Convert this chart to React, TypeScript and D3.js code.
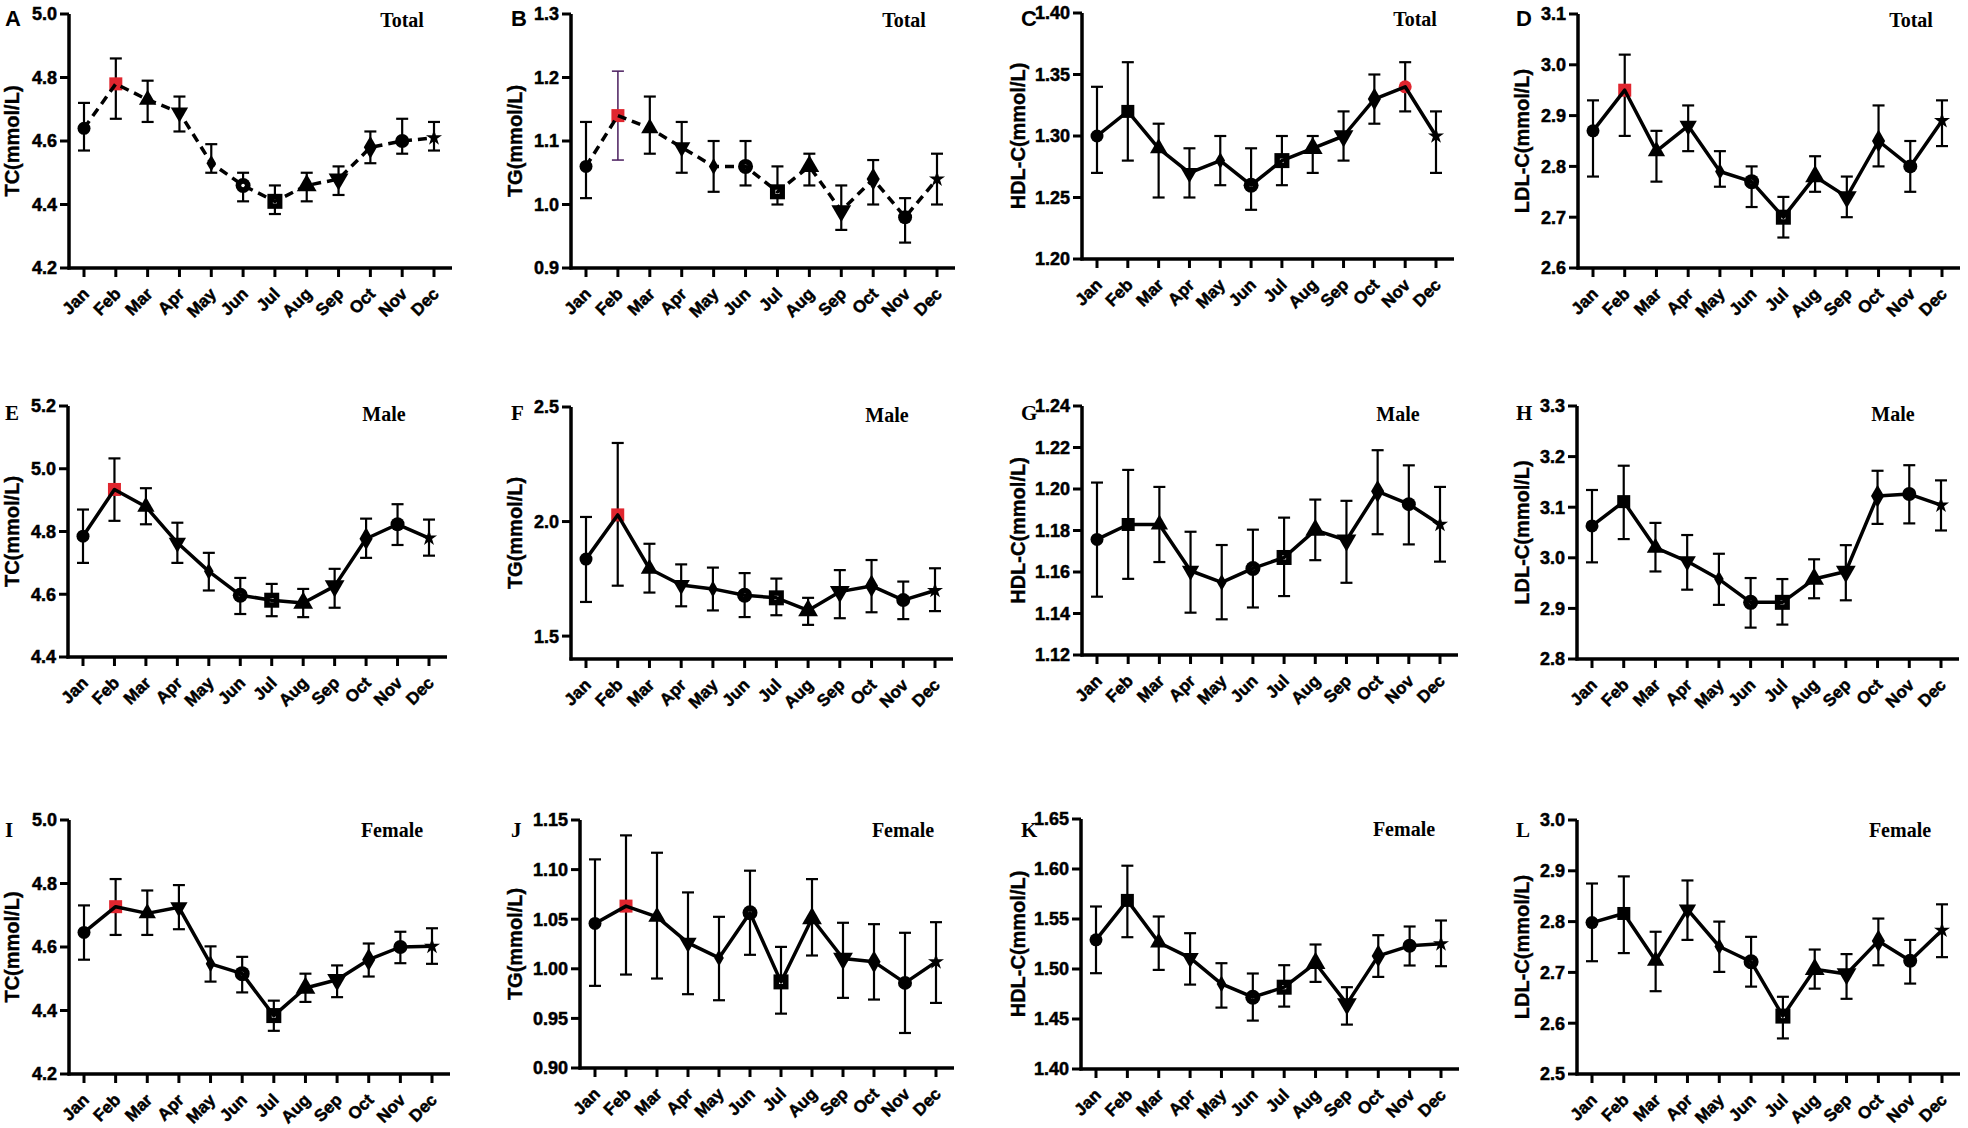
import React from 'react';
import * as d3 from 'd3';

const months = ['Jan', 'Feb', 'Mar', 'Apr', 'May', 'Jun', 'Jul', 'Aug', 'Sep', 'Oct', 'Nov', 'Dec'];

// A - TC total
const tcTotal = [4.64, 4.78, 4.73, 4.69, 4.53, 4.46, 4.41, 4.46, 4.48, 4.58, 4.60, 4.61];
const tcTotalHi = [4.72, 4.86, 4.79, 4.74, 4.59, 4.50, 4.46, 4.50, 4.52, 4.63, 4.67, 4.66];
const tcTotalLo = [4.57, 4.67, 4.66, 4.63, 4.50, 4.41, 4.37, 4.41, 4.43, 4.53, 4.56, 4.57];
// B - TG total
const tgTotal = [1.06, 1.14, 1.12, 1.09, 1.06, 1.06, 1.02, 1.06, 0.99, 1.04, 0.98, 1.04];
const tgTotalHi = [1.13, 1.21, 1.17, 1.13, 1.10, 1.10, 1.06, 1.08, 1.03, 1.07, 1.01, 1.08];
const tgTotalLo = [1.01, 1.07, 1.08, 1.05, 1.02, 1.03, 1.00, 1.03, 0.96, 1.00, 0.94, 1.00];
// C - HDL total
const hdlTotal = [1.30, 1.32, 1.29, 1.27, 1.28, 1.26, 1.28, 1.29, 1.30, 1.33, 1.34, 1.30];
const hdlTotalHi = [1.34, 1.36, 1.31, 1.29, 1.30, 1.29, 1.30, 1.30, 1.32, 1.35, 1.36, 1.32];
const hdlTotalLo = [1.27, 1.28, 1.25, 1.25, 1.26, 1.24, 1.26, 1.27, 1.28, 1.31, 1.32, 1.27];
// D - LDL total
const ldlTotal = [2.87, 2.95, 2.83, 2.88, 2.79, 2.77, 2.70, 2.78, 2.74, 2.85, 2.80, 2.89];
const ldlTotalHi = [2.93, 3.02, 2.87, 2.92, 2.83, 2.80, 2.74, 2.82, 2.78, 2.92, 2.85, 2.93];
const ldlTotalLo = [2.78, 2.86, 2.77, 2.83, 2.76, 2.72, 2.66, 2.75, 2.70, 2.80, 2.75, 2.84];
// E - TC male
const tcMale = [4.785, 4.934, 4.879, 4.764, 4.673, 4.597, 4.581, 4.572, 4.626, 4.777, 4.823, 4.779];
const tcMaleHi = [4.87, 5.033, 4.938, 4.828, 4.732, 4.652, 4.633, 4.617, 4.681, 4.841, 4.887, 4.838];
const tcMaleLo = [4.70, 4.834, 4.823, 4.70, 4.612, 4.537, 4.53, 4.527, 4.557, 4.716, 4.757, 4.723];
// F - TG male
const tgMale = [1.836, 2.029, 1.794, 1.723, 1.706, 1.678, 1.667, 1.612, 1.694, 1.719, 1.657, 1.699];
const tgMaleHi = [2.02, 2.343, 1.903, 1.813, 1.799, 1.775, 1.751, 1.667, 1.788, 1.832, 1.738, 1.796];
const tgMaleLo = [1.649, 1.72, 1.69, 1.63, 1.612, 1.583, 1.591, 1.549, 1.578, 1.604, 1.574, 1.609];
// G - HDL male
const hdlMale = [1.1757, 1.1829, 1.1829, 1.1606, 1.155, 1.1617, 1.167, 1.1802, 1.1753, 1.1989, 1.1927, 1.1829];
const hdlMaleHi = [1.2031, 1.2092, 1.201, 1.1794, 1.173, 1.1804, 1.1862, 1.1949, 1.1943, 1.2187, 1.2114, 1.201];
const hdlMaleLo = [1.1481, 1.1567, 1.1648, 1.1404, 1.1372, 1.1429, 1.1484, 1.1657, 1.1548, 1.1782, 1.1733, 1.165];
// H - LDL male
const ldlMale = [3.063, 3.111, 3.02, 2.993, 2.958, 2.912, 2.912, 2.958, 2.973, 3.122, 3.126, 3.104];
const ldlMaleHi = [3.134, 3.182, 3.069, 3.045, 3.008, 2.96, 2.958, 2.997, 3.025, 3.172, 3.183, 3.153];
const ldlMaleLo = [2.991, 3.037, 2.973, 2.937, 2.907, 2.862, 2.868, 2.92, 2.916, 3.067, 3.068, 3.054];
// I - TC female
const tcFemale = [4.646, 4.727, 4.706, 4.725, 4.547, 4.516, 4.384, 4.471, 4.497, 4.56, 4.60, 4.602];
const tcFemaleHi = [4.731, 4.814, 4.778, 4.795, 4.602, 4.569, 4.431, 4.516, 4.542, 4.611, 4.648, 4.659];
const tcFemaleLo = [4.56, 4.638, 4.638, 4.656, 4.491, 4.457, 4.336, 4.427, 4.442, 4.507, 4.549, 4.547];
// J - TG female
const tgFemale = [1.0457, 1.0632, 1.0524, 1.0262, 1.011, 1.0565, 0.9868, 1.0507, 1.0104, 1.007, 0.9858, 1.007];
const tgFemaleHi = [1.1103, 1.1345, 1.117, 1.077, 1.0524, 1.0989, 1.0221, 1.0904, 1.0464, 1.045, 1.0363, 1.047];
const tgFemaleLo = [0.9828, 0.9942, 0.9902, 0.9744, 0.9683, 1.0141, 0.9548, 1.0134, 0.9707, 0.969, 0.9353, 0.9656];
// K - HDL female
const hdlFemale = [1.5292, 1.5686, 1.5265, 1.5111, 1.4851, 1.4718, 1.4818, 1.5058, 1.4651, 1.5131, 1.5232, 1.5252];
const hdlFemaleHi = [1.5625, 1.6033, 1.5525, 1.5358, 1.5058, 1.4955, 1.5038, 1.5245, 1.4818, 1.5338, 1.5425, 1.5485];
const hdlFemaleLo = [1.4958, 1.5318, 1.4991, 1.4844, 1.4614, 1.4484, 1.4624, 1.4871, 1.4444, 1.4921, 1.5035, 1.5028];
// L - LDL female
const ldlFemale = [2.798, 2.816, 2.723, 2.824, 2.751, 2.721, 2.614, 2.706, 2.697, 2.762, 2.723, 2.783];
const ldlFemaleHi = [2.875, 2.889, 2.78, 2.881, 2.80, 2.77, 2.652, 2.745, 2.736, 2.806, 2.764, 2.834];
const ldlFemaleLo = [2.722, 2.738, 2.663, 2.764, 2.701, 2.672, 2.57, 2.668, 2.648, 2.714, 2.678, 2.73];

const panels = [
  { letter: 'A', title: 'Total', ylab: 'TC(mmol/L)', mean: tcTotal, hi: tcTotalHi, lo: tcTotalLo, domain: [4.2, 5.0], ticks: [4.2, 4.4, 4.6, 4.8, 5.0], dec: 1, dashed: true, red: 1 },
  { letter: 'B', title: 'Total', ylab: 'TG(mmol/L)', mean: tgTotal, hi: tgTotalHi, lo: tgTotalLo, domain: [0.9, 1.3], ticks: [0.9, 1.0, 1.1, 1.2, 1.3], dec: 1, dashed: true, red: 1, purpleErr: 1 },
  { letter: 'C', title: 'Total', ylab: 'HDL-C(mmol/L)', mean: hdlTotal, hi: hdlTotalHi, lo: hdlTotalLo, domain: [1.2, 1.4], ticks: [1.2, 1.25, 1.3, 1.35, 1.4], dec: 2, red: 10 },
  { letter: 'D', title: 'Total', ylab: 'LDL-C(mmol/L)', mean: ldlTotal, hi: ldlTotalHi, lo: ldlTotalLo, domain: [2.6, 3.1], ticks: [2.6, 2.7, 2.8, 2.9, 3.0, 3.1], dec: 1, red: 1 },
  { letter: 'E', title: 'Male', ylab: 'TC(mmol/L)', mean: tcMale, hi: tcMaleHi, lo: tcMaleLo, domain: [4.4, 5.2], ticks: [4.4, 4.6, 4.8, 5.0, 5.2], dec: 1, red: 1 },
  { letter: 'F', title: 'Male', ylab: 'TG(mmol/L)', mean: tgMale, hi: tgMaleHi, lo: tgMaleLo, domain: [1.4, 2.5], ticks: [1.5, 2.0, 2.5], dec: 1, red: 1 },
  { letter: 'G', title: 'Male', ylab: 'HDL-C(mmol/L)', mean: hdlMale, hi: hdlMaleHi, lo: hdlMaleLo, domain: [1.12, 1.24], ticks: [1.12, 1.14, 1.16, 1.18, 1.2, 1.22, 1.24], dec: 2, red: -1 },
  { letter: 'H', title: 'Male', ylab: 'LDL-C(mmol/L)', mean: ldlMale, hi: ldlMaleHi, lo: ldlMaleLo, domain: [2.8, 3.3], ticks: [2.8, 2.9, 3.0, 3.1, 3.2, 3.3], dec: 1, red: -1 },
  { letter: 'I', title: 'Female', ylab: 'TC(mmol/L)', mean: tcFemale, hi: tcFemaleHi, lo: tcFemaleLo, domain: [4.2, 5.0], ticks: [4.2, 4.4, 4.6, 4.8, 5.0], dec: 1, red: 1 },
  { letter: 'J', title: 'Female', ylab: 'TG(mmol/L)', mean: tgFemale, hi: tgFemaleHi, lo: tgFemaleLo, domain: [0.9, 1.15], ticks: [0.9, 0.95, 1.0, 1.05, 1.1, 1.15], dec: 2, red: 1 },
  { letter: 'K', title: 'Female', ylab: 'HDL-C(mmol/L)', mean: hdlFemale, hi: hdlFemaleHi, lo: hdlFemaleLo, domain: [1.4, 1.65], ticks: [1.4, 1.45, 1.5, 1.55, 1.6, 1.65], dec: 2, red: -1 },
  { letter: 'L', title: 'Female', ylab: 'LDL-C(mmol/L)', mean: ldlFemale, hi: ldlFemaleHi, lo: ldlFemaleLo, domain: [2.5, 3.0], ticks: [2.5, 2.6, 2.7, 2.8, 2.9, 3.0], dec: 1, red: -1 },
];

// layout: axis x, top, bottom, x-axis length
const layout = [
  [69, 14, 268, 383], [571, 14, 268, 384], [1082, 13, 259, 372], [1578, 14, 268, 382],
  [68, 406, 657, 379], [571, 407, 659, 382], [1082, 406, 655, 376], [1577, 406, 659, 382],
  [69, 820, 1074, 381], [580, 820, 1068, 374], [1081, 819, 1069, 378], [1577, 820, 1074, 383],
];
const letterX = [5, 511, 1021, 1516];
const letterY = [26, 420, 837];
const ylabX = [12, 515, 1018, 1522];
const titleDx = [333, 316, 323];
const titleDy = [13, 15, 17];

const RED = '#e0262f';
const sans = 'Arial, "Liberation Sans", Helvetica, sans-serif';
const serif = '"Times New Roman", "Liberation Serif", serif';

const tri = d3.symbol().type(d3.symbolTriangle);

function Marker({ i, x, y, red }: any) {
  const fill = '#000';
  const t = `translate(${x},${y})`;
  if (red) {
    if (i === 10) return <circle cx={x} cy={y} r={6.5} fill={RED} />;
    return <rect x={x - 6.5} y={y - 6.5} width={13} height={13} fill={RED} />;
  }
  switch (i) {
    case 0: return <circle cx={x} cy={y} r={6.5} fill={fill} />;
    case 1: return <rect x={x - 6.5} y={y - 6.5} width={13} height={13} fill={fill} />;
    case 2: return <path transform={t} d={tri.size(130)()!} fill={fill} />;
    case 3: return <path transform={`${t} rotate(180)`} d={tri.size(130)()!} fill={fill} />;
    case 4: return <path transform={t} d={d3.symbol().type(d3.symbolDiamond).size(80)()!} fill={fill} />;
    case 5: return <g><circle cx={x} cy={y} r={7.5} fill={fill} /><circle cx={x} cy={y} r={1.8} fill="#fff" /></g>;
    case 6: return <g><rect x={x - 7.5} y={y - 7.5} width={15} height={15} fill={fill} /><rect x={x - 2} y={y - 2} width={4} height={4} fill="#fff" /></g>;
    case 7: return <path transform={t} d={tri.size(170)()!} fill={fill} />;
    case 8: return <path transform={`${t} rotate(180)`} d={tri.size(170)()!} fill={fill} />;
    case 9: return <path transform={t} d={d3.symbol().type(d3.symbolDiamond).size(150)()!} fill={fill} />;
    case 10: return <circle cx={x} cy={y} r={7} fill={fill} />;
    default: return <path transform={t} d={d3.symbol().type(d3.symbolStar).size(80)()!} fill={fill} />;
  }
}

function Panel({ p, idx }: any) {
  const [ax, top, bottom, len] = layout[idx];
  const col = idx % 4;
  const row = Math.floor(idx / 4);
  const x = d3.scalePoint().domain(months).range([ax + 15, ax + len - 18]);
  const y = d3.scaleLinear().domain(p.domain).range([bottom, top]);
  const pts = p.mean.map((v: number, i: number) => [x(months[i])!, y(v)] as [number, number]);
  const line = d3.line()(pts)!;
  const fmt = d3.format(`.${p.dec}f`);
  const letterFont = row === 0 ? sans : serif;

  return (
    <g>
      {/* axes */}
      <line x1={ax} x2={ax} y1={y(p.domain[1])} y2={bottom + 1.5} stroke="#000" strokeWidth={3.5} />
      <line x1={ax - 1.5} x2={ax + len} y1={bottom} y2={bottom} stroke="#000" strokeWidth={3.5} />
      {p.ticks.map((t: number) => (
        <g key={t}>
          <line x1={ax - 9} x2={ax} y1={y(t)} y2={y(t)} stroke="#000" strokeWidth={3} />
          <text x={ax - 12} y={y(t)} dy="0.36em" textAnchor="end" fontFamily={sans} fontWeight="bold" fontSize={18} stroke="#000" strokeWidth={0.5}>{fmt(t)}</text>
        </g>
      ))}
      {months.map((m) => (
        <g key={m}>
          <line x1={x(m)} x2={x(m)} y1={bottom} y2={bottom + 9} stroke="#000" strokeWidth={3} />
          <text transform={`translate(${x(m)! + 6},${bottom + 27}) rotate(-45)`} textAnchor="end" fontFamily={sans} fontWeight="bold" fontSize={17} stroke="#000" strokeWidth={0.5}>{m}</text>
        </g>
      ))}
      {/* y label */}
      <text transform={`translate(${ylabX[col]},${(top + bottom) / 2}) rotate(-90)`} textAnchor="middle" dy="0.35em" fontFamily={sans} fontWeight="bold" fontSize={20} stroke="#000" strokeWidth={0.4}>{p.ylab}</text>
      {/* error bars */}
      {months.map((m, i) => {
        const cx = x(m)!;
        const c = p.purpleErr === i ? '#4a1d5e' : '#000';
        const w = p.purpleErr === i ? 1.5 : 2.2;
        return (
          <g key={m} stroke={c} strokeWidth={w}>
            <line x1={cx} x2={cx} y1={y(p.hi[i])} y2={y(p.lo[i])} />
            <line x1={cx - 6} x2={cx + 6} y1={y(p.hi[i])} y2={y(p.hi[i])} />
            <line x1={cx - 6} x2={cx + 6} y1={y(p.lo[i])} y2={y(p.lo[i])} />
          </g>
        );
      })}
      {/* markers */}
      {pts.map((pt: [number, number], i: number) => (
        <Marker key={i} i={i} x={pt[0]} y={pt[1]} red={p.red === i} />
      ))}
      <path d={line} fill="none" stroke="#000" strokeWidth={3.5} strokeDasharray={p.dashed ? '9 6' : undefined} strokeLinejoin="round" />
      {/* panel letter and title */}
      <text x={letterX[col]} y={letterY[row]} fontFamily={letterFont} fontWeight="bold" fontSize={row === 0 ? 22 : 21}>{p.letter}</text>
      <text x={ax + titleDx[row]} y={top + titleDy[row]} textAnchor="middle" fontFamily={serif} fontWeight="bold" fontSize={20}>{p.title}</text>
    </g>
  );
}

export default function App() {
  return (
    <div style={{ position: 'absolute', left: 0, top: 0 }}>
      <svg width={1968} height={1128} style={{ display: 'block', background: '#fff' }}>
        {panels.map((p, i) => <Panel key={p.letter} p={p} idx={i} />)}
      </svg>
    </div>
  );
}
